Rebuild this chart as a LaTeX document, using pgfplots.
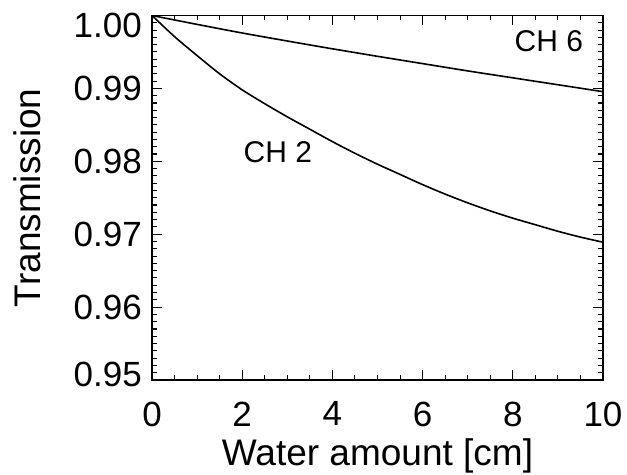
\documentclass[border=0pt]{standalone}
\usepackage{fontspec}
\setmainfont{Liberation Sans}
\usepackage{pgfplots}
\pgfplotsset{compat=1.18}
\usetikzlibrary{calc}

\begin{document}
\begin{tikzpicture}
\begin{axis}[
    scale only axis,
    width=451pt, height=364.5pt,
    xmin=0, xmax=10,
    ymin=0.95, ymax=1.0,
    xtick={0,2,4,6,8,10},
    minor x tick num=3,
    ytick={0.95,0.96,0.97,0.98,0.99,1.00},
    yticklabels={\raisebox{6pt}[\height][\depth]{0.95},0.96,0.97,0.98,0.99,\raisebox{-10pt}[\height][\depth]{1.00}},
    minor y tick num=9,
    tick align=inside,
    major tick length=10pt,
    minor tick length=5pt,
    every tick/.style={black, line width=1.1pt},
    axis line style={line width=1.4pt},
    /pgf/number format/assume math mode=true,
    tick label style={font=\fontsize{35}{40}\selectfont, inner sep=0pt},
    xticklabel style={anchor=north, yshift=-21.7pt},
    yticklabel style={anchor=east, xshift=-10pt},
    xlabel={Water amount [cm]},
    ylabel={Transmission},
    label style={font=\fontsize{37}{42}\selectfont},
    xlabel style={at={(axis description cs:0.5,-0.2359)}, anchor=base},
    ylabel style={at={(axis description cs:-0.2483,0.5)}, anchor=base},
]
% CH 2
\addplot[black, line width=1.6pt, smooth] coordinates {
(0,1.0000) (0.5,0.9971) (1.0,0.9945) (1.5,0.9920) (2.0,0.9898) (2.5,0.9879)
(3.0,0.9861) (3.5,0.9844) (4.0,0.9827) (4.5,0.9811) (5.0,0.9796) (5.5,0.9782)
(6.0,0.9768) (6.5,0.9755) (7.0,0.9743) (7.5,0.9732) (8.0,0.9722) (8.5,0.9713)
(9.0,0.9704) (9.5,0.9696) (10.0,0.9689)};
% CH 6
\addplot[black, line width=1.6pt, smooth] coordinates {
(0,1.0000) (1,0.99878) (2,0.99760) (3,0.99650) (4,0.99543) (5,0.99440)
(6,0.99340) (7,0.99240) (8,0.99145) (9,0.99050) (10,0.98955)};
\node[font=\fontsize{30}{34}\selectfont] at (axis cs:2.79,0.98132) {CH 2};
\node[font=\fontsize{30}{34}\selectfont] at (axis cs:8.80,0.99653) {CH 6};
\coordinate (bl) at (rel axis cs:0,0);
\coordinate (tr) at (rel axis cs:1,1);
\end{axis}
\pgfresetboundingbox
\path[use as bounding box] ($(bl)+(-152pt,-95pt)$) rectangle ($(tr)+(24pt,15.5pt)$);
\end{tikzpicture}
\end{document}
